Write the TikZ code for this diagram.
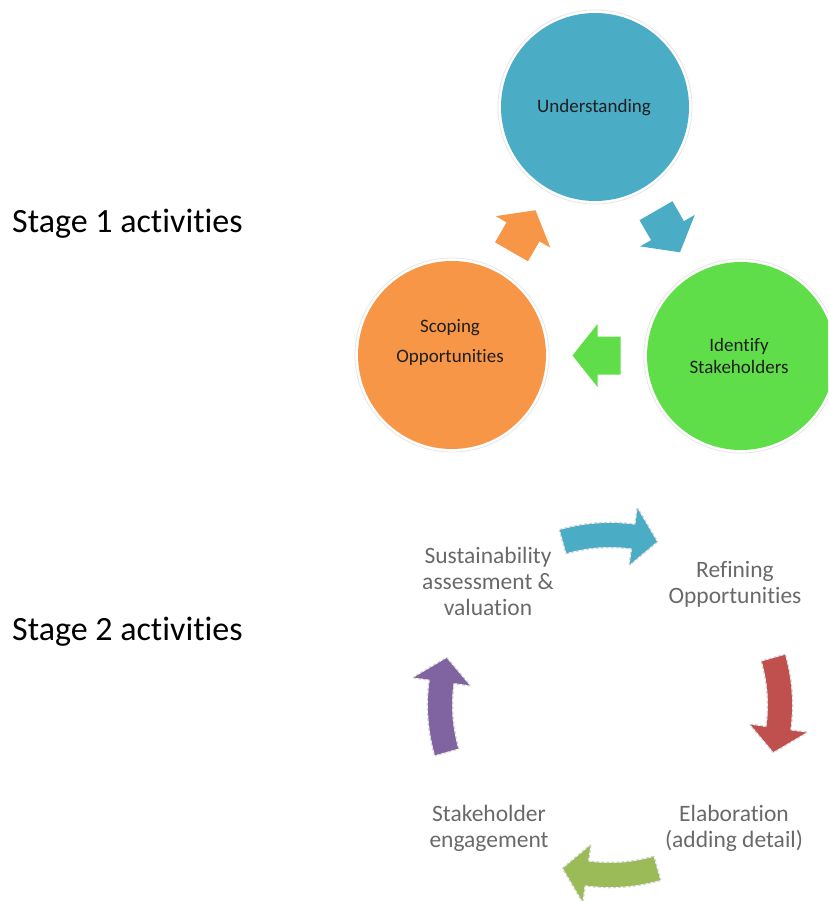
\documentclass[tikz,border=0pt]{standalone}
\usepackage{fontspec}
\setmainfont{Carlito}[Ligatures=NoCommon]
\usetikzlibrary{calc}

\definecolor{cBlue}{RGB}{75,172,198}
\definecolor{cOrange}{RGB}{247,150,70}
\definecolor{cGreen}{RGB}{96,222,74}
\definecolor{cRed}{RGB}{192,80,77}
\definecolor{cOlive}{RGB}{155,187,89}
\definecolor{cPurple}{RGB}{128,100,162}
\definecolor{cText}{RGB}{105,105,105}

\tikzset{
  stagecircle/.style={circle, minimum size=188pt, inner sep=0pt},
  ring/.style={draw=black!10, line width=0.8pt},
  circletext/.style={align=center, inner sep=0pt, text=black!88},
  stagelabel/.style={anchor=base west, inner sep=0pt, font=\fontsize{34}{40}\selectfont},
  cyclelabel/.style={align=center, inner sep=0pt, text=cText, font=\fontsize{23.5}{26}\selectfont},
  cycleoutline/.style={draw=black!16, line width=2.6pt, dash pattern=on 3pt off 2pt, line join=round},
}

% straight block arrow centred on #1, pointing at angle #2, filled with #3
\newcommand\blockarrow[3]{%
  \fill[#3, shift={#1}, rotate=#2]
    (-24,-19) -- (-1,-19) -- (-1,-31.5) -- (24,0) -- (-1,31.5) -- (-1,19) -- (-24,19) -- cycle;}

% curved arrow on the cycle ring, centred at angle #1, running clockwise, colour #2
\newcommand\cyclearrow[2]{%
  \path[cycleoutline]
    ({#1+16}:182) arc[start angle={#1+16}, end angle={#1-8}, radius=182]
    -- ({#1-8}:198) -- ({#1-16}:170) -- ({#1-8}:142) -- ({#1-8}:158)
    arc[start angle={#1-8}, end angle={#1+16}, radius=158] -- cycle;
  \fill[#2]
    ({#1+16}:182) arc[start angle={#1+16}, end angle={#1-8}, radius=182]
    -- ({#1-8}:198) -- ({#1-16}:170) -- ({#1-8}:142) -- ({#1-8}:158)
    arc[start angle={#1-8}, end angle={#1+16}, radius=158] -- cycle;}

\begin{document}
\begin{tikzpicture}[x=1pt, y=1pt]
  \useasboundingbox (0,0) rectangle (828,-901);
  \clip (0,0) rectangle (828,-901);

  % ---------- stage labels ----------
  \node[stagelabel] (s1) at (12,-233) {Stage 1 activities};
  \node[stagelabel] (s2) at (12,-640) {Stage 2 activities};

  % ---------- stage 1: three circles ----------
  \node[stagecircle, fill=cBlue]   (und)   at (595,-107) {};
  \node[stagecircle, fill=cOrange] (scope) at (452,-355) {};
  \node[stagecircle, fill=cGreen]  (ident) at (741,-356) {};
  \foreach \c in {und, scope, ident}
    \draw[ring] (\c.center) circle[radius=97];

  \node[circletext, font=\fontsize{19}{22}\selectfont]   (und-t)   at (594,-108) {Understanding};
  \node[circletext, font=\fontsize{19}{30}\selectfont]   (scope-t) at (450,-342) {Scoping\\Opportunities};
  \node[circletext, font=\fontsize{19}{22}\selectfont]   (ident-t) at (739,-356) {Identify\\Stakeholders};

  \blockarrow{($(scope)!0.5!(und)$)}{60}{cOrange}
  \blockarrow{($(und)!0.5!(ident)$)}{-60}{cBlue}
  \blockarrow{($(ident)!0.5!(scope)$)}{180}{cGreen}

  % ---------- stage 2: cycle ----------
  \coordinate (cc) at (610,-705);
  \node[cyclelabel] (sust)  at (488,-581) {Sustainability\\assessment \&\\valuation};
  \node[cyclelabel] (refin) at (735,-584) {Refining\\Opportunities};
  \node[cyclelabel] (elab)  at (734,-828) {Elaboration\\(adding detail)};
  \node[cyclelabel] (stake) at (489,-828) {Stakeholder\\engagement};

  \begin{scope}[shift={(cc)}]
    \cyclearrow{90}{cBlue}
    \cyclearrow{0}{cRed}
    \cyclearrow{-90}{cOlive}
    \cyclearrow{180}{cPurple}
  \end{scope}
\end{tikzpicture}
\end{document}
